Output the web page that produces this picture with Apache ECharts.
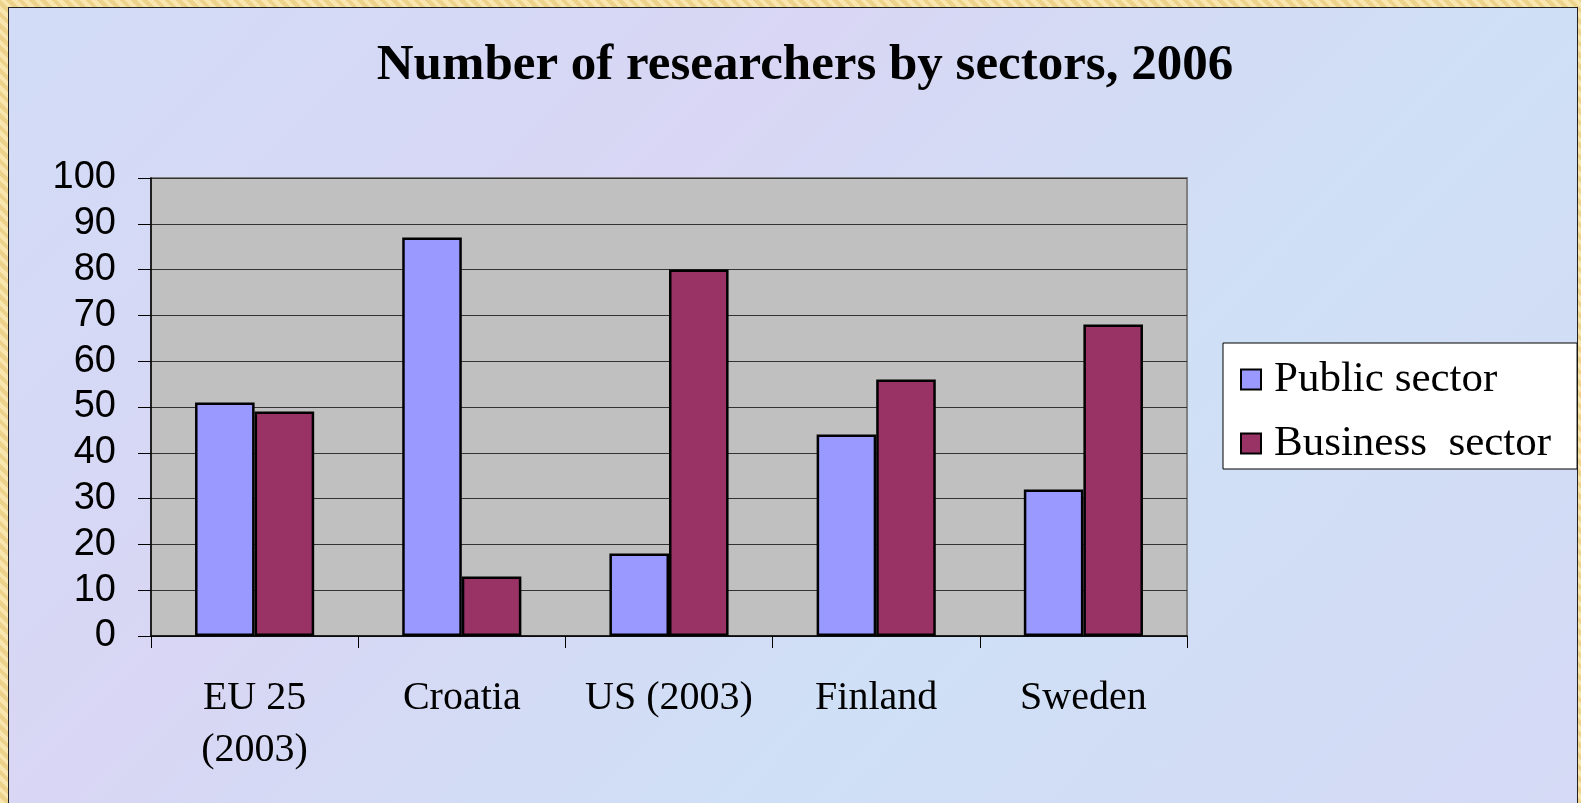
<!DOCTYPE html>
<html>
<head>
<meta charset="utf-8">
<script src="https://cdn.jsdelivr.net/npm/echarts@6/dist/echarts.min.js"></script>
<style>
  html, body { margin: 0; padding: 0; width: 1581px; height: 803px; overflow: hidden; }
  body {
    background: repeating-linear-gradient(45deg, #f8e6ae 0px, #f8e6ae 4px, #ecd28a 4px, #ecd28a 8px);
  }
  #frame {
    position: absolute; left: 8px; top: 7px; width: 1568px; height: 810px;
    border: 1.5px solid #222;
    background: linear-gradient(135deg, #d2dcf6 0%, #d8d6f4 35%, #cfe0f6 65%, #d5d9f5 100%);
  }
  #chart { position: absolute; left: 0; top: 0; width: 1581px; height: 803px; }
</style>
</head>
<body>
<div id="frame"></div>
<div id="chart"></div>
<script>
    // categories and values
    var countries = ['EU 25\n(2003)', 'Croatia', 'US (2003)', 'Finland', 'Sweden'];
    var publicSector = [51, 87, 18, 44, 32];
    var businessSector = [49, 13, 80, 56, 68];
    var seriesNames = ['Public sector', 'Business  sector'];

    var serif = '"Liberation Serif", "Times New Roman", serif';

    var chart = echarts.init(document.getElementById('chart'));
    var option = {
        animation: false,
        title: {
            text: 'Number of researchers by sectors, 2006',
            left: 800,
            top: 35,
            textAlign: 'center',
            textStyle: { fontFamily: serif, fontWeight: 'bold', fontSize: 51, color: '#000' }
        },
        legend: {
            orient: 'vertical',
            left: 1223,
            top: 343,
            backgroundColor: '#fff',
            borderColor: '#000',
            borderWidth: 1,
            padding: [15, 26, 4, 17],
            itemWidth: 20,
            itemHeight: 20,
            itemGap: 21,
            icon: 'rect',
            textStyle: { fontFamily: serif, fontSize: 43, color: '#000', lineHeight: 40, padding: [0, 0, 0, 8] },
            data: seriesNames
        },
        grid: {
            show: true,
            left: 151,
            top: 178,
            width: 1036,
            height: 458,
            backgroundColor: '#c0c0c0',
            borderColor: '#808080',
            borderWidth: 2
        },
        xAxis: {
            type: 'category',
            data: countries,
            axisLine: { lineStyle: { color: '#000', width: 1.5 } },
            axisTick: { show: true, length: 12, lineStyle: { color: '#000' } },
            axisLabel: { interval: 0, fontFamily: serif, fontSize: 40, color: '#000', margin: 36, lineHeight: 52 }
        },
        yAxis: {
            type: 'value',
            min: 0,
            max: 100,
            interval: 10,
            axisLine: { show: true, lineStyle: { color: '#000', width: 1.5 } },
            axisTick: { show: true, length: 13, lineStyle: { color: '#000' } },
            axisLabel: { fontFamily: '"Liberation Sans", Arial, sans-serif', fontSize: 38, color: '#000', margin: 35 },
            splitLine: { lineStyle: { color: '#333', width: 1.2 } }
        },
        series: [
            {
                name: seriesNames[0],
                type: 'bar',
                data: publicSector,
                barGap: '0%',
                barCategoryGap: '42.5%',
                itemStyle: { color: '#9999ff', borderColor: '#000', borderWidth: 2.5 }
            },
            {
                name: seriesNames[1],
                type: 'bar',
                data: businessSector,
                barGap: '0%',
                barCategoryGap: '42.5%',
                itemStyle: { color: '#993366', borderColor: '#000', borderWidth: 2.5 }
            }
        ]
    };
    chart.setOption(option);
</script>
</body>
</html>
